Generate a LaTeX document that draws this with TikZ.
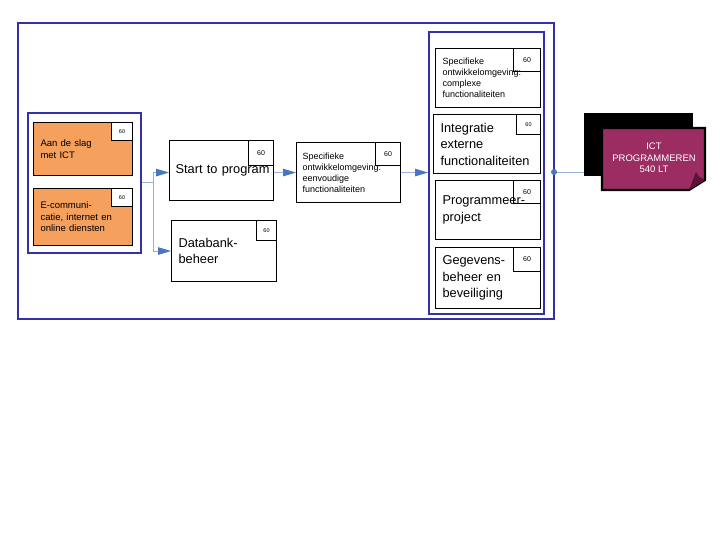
\documentclass[tikz,border=0pt]{standalone}
\usepackage{fontspec}
\setmainfont{Liberation Sans}
\usetikzlibrary{arrows.meta,positioning,calc}

\definecolor{frameblue}{RGB}{52,48,172}
\definecolor{linkblue}{RGB}{150,178,220}
\definecolor{tipblue}{RGB}{72,118,196}
\definecolor{modorange}{RGB}{245,160,92}
\definecolor{ictred}{RGB}{155,45,98}
\definecolor{folddark}{RGB}{92,18,58}

\tikzset{
  group/.style={draw=frameblue, line width=1.6pt, fill=none},
  module/.style={draw, line width=1.1pt, anchor=north west, align=left,
    inner xsep=7pt, inner ysep=0pt, execute at begin node={\hyphenpenalty=10000}},
  numbox/.style={draw, line width=1.1pt, anchor=north east, inner sep=0pt},
  link/.style={draw=linkblue, line width=0.9pt,
    -{Triangle[length=13pt,width=7.5pt,color=tipblue]}},
  big/.style={font=\fontsize{12.8}{16.5}\selectfont},
  small/.style={font=\fontsize{9}{11}\selectfont},
}

\begin{document}
\begin{tikzpicture}[x=1pt,y=-1pt]
\useasboundingbox[fill=white] (0,0) rectangle (720,540);

% frames
\draw[group] (18,23) rectangle (554,319);
\node[group, anchor=north west, minimum width=113, minimum height=140] (leftgrp) at (27,112) {};
\node[group, anchor=north west, minimum width=115, minimum height=282] (rightgrp) at (428,31) {};

% first semester
\node[module, fill=modorange, minimum width=99, minimum height=53, text width=85pt,
  font=\fontsize{9.5}{11.5}\selectfont] (aan) at (33,122) {Aan de slag\\met ICT};
\node[numbox, fill=white, minimum width=21, minimum height=18,
  font=\fontsize{5.5}{6}\selectfont] (aannr) at (aan.north east) {60};
\node[module, fill=modorange, minimum width=99, minimum height=57, text width=85pt,
  font=\fontsize{9.5}{11.5}\selectfont] (ecomm) at (33,188) {E-communi-\\catie, internet en\\online diensten};
\node[numbox, fill=white, minimum width=21, minimum height=18,
  font=\fontsize{5.5}{6}\selectfont] (ecommnr) at (ecomm.north east) {60};

% second semester
\node[module, big, minimum width=104, minimum height=60, text width=92pt, inner xsep=6pt] (start) at (169,140)
  {Start~to~program};
\node[numbox, minimum width=25, minimum height=25,
  font=\fontsize{7}{8}\selectfont] (startnr) at (start.north east) {60};
\node[module, big, minimum width=105, minimum height=61, text width=91pt] (dbank) at (171,220) {Databank-\\beheer};
\node[numbox, minimum width=20, minimum height=20,
  font=\fontsize{5.5}{6}\selectfont] (dbanknr) at (dbank.north east) {60};

\node[module, small, minimum width=104, minimum height=60, text width=92pt, inner xsep=6pt] (eenv) at (296,142)
  {Specifieke\\ontwikkelomgeving:\\eenvoudige\\functionaliteiten};
\node[numbox, minimum width=25, minimum height=23,
  font=\fontsize{7}{8}\selectfont] (eenvnr) at (eenv.north east) {60};

% third semester
\node[module, small, minimum width=105, minimum height=59, text width=91pt] (compl) at (435,48)
  {Specifieke\\ontwikkelomgeving:\\complexe\\functionaliteiten};
\node[numbox, minimum width=27, minimum height=23,
  font=\fontsize{7}{8}\selectfont] (complnr) at (compl.north east) {60};
\node[module, big, minimum width=107, minimum height=59, text width=93pt] (integr) at (433,114)
  {Integratie\\externe\\functionaliteiten};
\node[numbox, minimum width=24, minimum height=20,
  font=\fontsize{5.5}{6}\selectfont] (integrnr) at (integr.north east) {60};
\node[module, big, minimum width=105, minimum height=59, text width=91pt] (proj) at (435,180)
  {Programmeer-\\project};
\node[numbox, minimum width=27, minimum height=23,
  font=\fontsize{7}{8}\selectfont] (projnr) at (proj.north east) {60};
\node[module, big, minimum width=105, minimum height=61, text width=91pt] (gegev) at (435,247)
  {Gegevens-\\beheer en\\beveiliging};
\node[numbox, minimum width=27, minimum height=24,
  font=\fontsize{7}{8}\selectfont] (gegevnr) at (gegev.north east) {60};

% connectors
\coordinate (split) at ($(leftgrp.east)+(12,0)$);
\draw[draw=linkblue, line width=0.9pt] (leftgrp.east) -- (split);
\draw[link] (split) |- ($(start.west)+(0,2)$);
\draw[link] (split) |- (dbank.west);
\draw[link] ($(start.east)+(0,2)$) -- ($(start.east -| eenv.west)+(0,2)$);
\draw[link] (eenv.east) -- (eenv.east -| rightgrp.west);

% diploma
\node[fill=black, draw=black, anchor=north west, minimum width=108, minimum height=62] (ictback) at (584,113) {};
\coordinate (dot) at (554,172);
\draw[draw=linkblue, line width=0.9pt] (dot) -- (dot -| ictback.west);
\fill[tipblue] (dot) circle (3pt);
\draw[line width=2.2pt, fill=ictred] (602,128) -- (705,128) -- (705,180) -- (689,190) -- (602,190) -- cycle;
\fill[folddark] (689,190) -- (696,172) .. controls (699,177) .. (705,180) -- cycle;
\node[text=white, align=center, font=\fontsize{9.5}{11.5}\selectfont] (ict) at (654,158)
  {ICT\\PROGRAMMEREN\\540 LT};
\end{tikzpicture}
\end{document}
